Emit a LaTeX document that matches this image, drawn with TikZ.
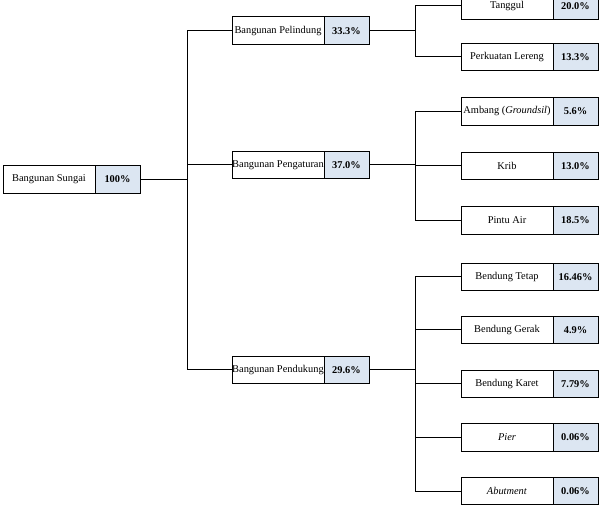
\documentclass[tikz,border=0pt]{standalone}
\usepackage{fontspec}
\setmainfont{Liberation Serif}
\usetikzlibrary{positioning}
\definecolor{pctblue}{RGB}{220,230,242}

\begin{document}
\begin{tikzpicture}[
  x=1pt, y=-1pt,
  line width=1pt,
  every node/.style = {draw, outer sep=0pt, inner sep=0pt, minimum height=27.5pt,
                       font=\fontsize{10.4}{12}\selectfont},
  lbl/.style = {fill=white, minimum width=92pt, anchor=west},
  pct/.style = {fill=pctblue, minimum width=45pt, right=0pt of #1,
                font=\fontsize{10.4}{12}\selectfont\bfseries}
]
  \useasboundingbox (0,0) rectangle (606,505);
  \coordinate (j0) at (187,0);
  \coordinate (j1) at (415,0);

  % root
  \node[lbl] (root) at (3,179.5) {Bangunan Sungai};
  \node[pct=root] (rootv) {100\%};

  % level 1
  \foreach \y/\txt/\val [count=\i] in {30.7/Bangunan Pelindung/33.3,
      165/Bangunan Pengaturan/37.0, 370/Bangunan Pendukung/29.6} {
    \node[lbl] (a\i) at (232,\y) {\txt};
    \node[pct=a\i] (av\i) {\val\%};
  }

  % level 2
  \foreach \y/\txt/\val [count=\i] in {6/Tanggul/20.0, 57/Perkuatan Lereng/13.3,
      111.5/{Ambang (\textit{Groundsil})}/5.6, 166/Krib/13.0, 220.5/Pintu Air/18.5,
      277/Bendung Tetap/16.46, 330/Bendung Gerak/4.9, 384/Bendung Karet/7.79,
      437.5/\textit{Pier}/0.06, 491/\textit{Abutment}/0.06} {
    \node[lbl] (b\i) at (461,\y) {\txt};
    \node[pct=b\i] (bv\i) {\val\%};
  }

  % root to level 1
  \draw (rootv.east) -- (rootv.east -| j0);
  \draw (a1.west) -- (a1.west -| j0) |- (a3.west);
  \draw (a2.west) -- (a2.west -| j0);

  % level 1 to level 2
  \foreach \i in {1,2,3} \draw (av\i.east) -- (av\i.east -| j1);
  \draw (b1.west) -- (b1.west -| j1) |- (b2.west);
  \draw (b3.west) -- (b3.west -| j1) |- (b5.west);
  \draw (b4.west) -- (b4.west -| j1);
  \draw (b6.west) -- (b6.west -| j1) |- (b10.west);
  \foreach \i in {7,8,9} \draw (b\i.west) -- (b\i.west -| j1);
\end{tikzpicture}
\end{document}
